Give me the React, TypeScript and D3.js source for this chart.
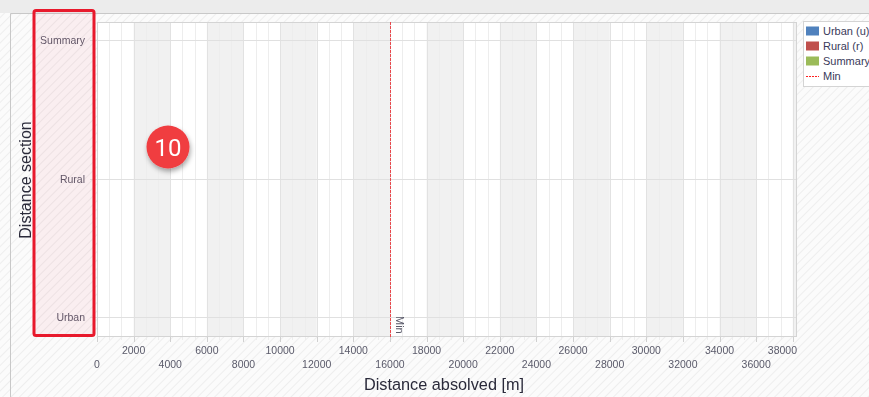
import { useEffect, useRef } from "react";
import * as d3 from "d3";

// empty chart: only the axis frame, the Min constant line and the legend
const categories = ["Urban", "Rural", "Summary"];
const seriesNames = ["Urban (u)", "Rural (r)", "Summary"];
const seriesColors = ["#4f81bd", "#c0504d", "#9bbb59"];
const xTickValues = [
  0, 2000, 4000, 6000, 8000, 10000, 12000, 14000, 16000, 18000, 20000, 22000,
  24000, 26000, 28000, 30000, 32000, 34000, 36000, 38000,
];
const xMax = 38230;
const minValue = 16000;
const minLabel = "Min";
const badgeText = "10";

const W = 869;
const H = 397;
const font = "Liberation Sans, Arial, sans-serif";

const App = () => {
  const svgRef = useRef<SVGSVGElement | null>(null);

  useEffect(() => {
    if (!svgRef.current) return;
    const svg = d3.select(svgRef.current);
    svg.selectAll("*").remove();

    const plot = { left: 97, right: 797, top: 22, bottom: 337 };

    const x = d3.scaleLinear().domain([0, xMax]).range([plot.left, plot.right]);
    const y = d3.scalePoint().domain(categories).range([317, 40]);

    const defs = svg.append("defs");
    const hatch = defs
      .append("pattern")
      .attr("id", "hatch")
      .attr("width", 6)
      .attr("height", 6)
      .attr("patternUnits", "userSpaceOnUse")
      .attr("patternTransform", "rotate(45)");
    hatch.append("rect").attr("width", 6).attr("height", 6).attr("fill", "#fbfbfb");
    hatch
      .append("line")
      .attr("x1", 0)
      .attr("y1", 0)
      .attr("x2", 0)
      .attr("y2", 6)
      .attr("stroke", "#eeeeee")
      .attr("stroke-width", 2);

    const shadow = defs.append("filter").attr("id", "shadow").attr("x", "-50%").attr("y", "-50%").attr("width", "200%").attr("height", "200%");
    shadow
      .append("feDropShadow")
      .attr("dx", 1)
      .attr("dy", 3)
      .attr("stdDeviation", 2.5)
      .attr("flood-color", "#000")
      .attr("flood-opacity", 0.35);

    // background
    svg.append("rect").attr("width", W).attr("height", H).attr("fill", "url(#hatch)");
    svg.append("rect").attr("width", W).attr("height", 13).attr("fill", "#ececec");
    svg
      .append("path")
      .attr("d", `M10.5,${H}V13.5H${W}`)
      .attr("fill", "none")
      .attr("stroke", "#c8c8c8");

    // plot area
    svg
      .append("rect")
      .attr("x", plot.left)
      .attr("y", plot.top)
      .attr("width", plot.right - plot.left)
      .attr("height", plot.bottom - plot.top)
      .attr("fill", "#fff");

    const bandStep = 2000;
    const bands = d3.range(bandStep, xMax, bandStep * 2);
    svg
      .append("g")
      .selectAll("rect")
      .data(bands)
      .join("rect")
      .attr("x", (d) => x(d))
      .attr("y", plot.top)
      .attr("width", (d) => x(Math.min(d + bandStep, xMax)) - x(d))
      .attr("height", plot.bottom - plot.top)
      .attr("fill", "#f1f1f1");

    const minorTicks = d3.range(0, xMax, bandStep / 3);
    svg
      .append("g")
      .selectAll("line")
      .data(minorTicks)
      .join("line")
      .attr("x1", (d) => Math.round(x(d)) + 0.5)
      .attr("x2", (d) => Math.round(x(d)) + 0.5)
      .attr("y1", plot.top)
      .attr("y2", plot.bottom + 3)
      .attr("stroke", (_d, i) => (i % 3 === 0 ? "#e2e2e2" : "#ededed"));

    svg
      .append("g")
      .selectAll("line")
      .data(xTickValues)
      .join("line")
      .attr("x1", (d) => Math.round(x(d)) + 0.5)
      .attr("x2", (d) => Math.round(x(d)) + 0.5)
      .attr("y1", plot.bottom)
      .attr("y2", plot.bottom + 5)
      .attr("stroke", "#d0d0d0");

    svg
      .append("g")
      .selectAll("line")
      .data(categories)
      .join("line")
      .attr("x1", plot.left - 7)
      .attr("x2", plot.right)
      .attr("y1", (d) => Math.round(y(d) as number) + 0.5)
      .attr("y2", (d) => Math.round(y(d) as number) + 0.5)
      .attr("stroke", "#e0e0e0");

    svg
      .append("rect")
      .attr("x", plot.left + 0.5)
      .attr("y", plot.top + 0.5)
      .attr("width", plot.right - plot.left - 1)
      .attr("height", plot.bottom - plot.top - 1)
      .attr("fill", "none")
      .attr("stroke", "#d4d4d4");

    // tick labels
    svg
      .append("g")
      .selectAll("text")
      .data(categories)
      .join("text")
      .attr("x", 85)
      .attr("y", (d) => (y(d) as number) + 4)
      .attr("text-anchor", "end")
      .attr("font-family", font)
      .attr("font-size", 10.5)
      .attr("fill", "#5a5a6a")
      .text((d) => d);

    svg
      .append("g")
      .selectAll("text")
      .data(xTickValues)
      .join("text")
      .attr("x", (d, i) => (i === xTickValues.length - 1 ? plot.right : x(d)))
      .attr("y", (d) => (d % 4000 === 0 ? 368 : 354))
      .attr("text-anchor", (_d, i) => (i === xTickValues.length - 1 ? "end" : "middle"))
      .attr("font-family", font)
      .attr("font-size", 10.5)
      .attr("fill", "#5a5a6a")
      .text((d) => d);

    // axis titles
    svg
      .append("text")
      .attr("transform", "translate(31,180) rotate(-90)")
      .attr("text-anchor", "middle")
      .attr("font-family", font)
      .attr("font-size", 16)
      .attr("fill", "#2a2a3a")
      .text("Distance section");
    svg
      .append("text")
      .attr("x", 444)
      .attr("y", 390)
      .attr("text-anchor", "middle")
      .attr("font-family", font)
      .attr("font-size", 16.3)
      .attr("fill", "#2a2a3a")
      .text("Distance absolved [m]");

    // Min constant line
    const mx = Math.round(x(minValue)) + 0.5;
    svg
      .append("line")
      .attr("x1", mx)
      .attr("x2", mx)
      .attr("y1", plot.top)
      .attr("y2", plot.bottom)
      .attr("stroke", "#e8484c")
      .attr("stroke-dasharray", "3,1");
    svg
      .append("text")
      .attr("transform", `translate(${mx + 5},316) rotate(90)`)
      .attr("font-family", font)
      .attr("font-size", 11)
      .attr("fill", "#5a5a6a")
      .text(minLabel);

    // legend
    const legend = svg.append("g").attr("transform", "translate(803,21)");
    legend
      .append("rect")
      .attr("x", 0.5)
      .attr("y", 0.5)
      .attr("width", 80)
      .attr("height", 65)
      .attr("fill", "#fff")
      .attr("stroke", "#d4d4d4");
    const items = [...seriesNames, minLabel];
    items.forEach((name, i) => {
      const cy = 10 + i * 15;
      if (i < seriesNames.length) {
        legend
          .append("rect")
          .attr("x", 3)
          .attr("y", cy - 4.5)
          .attr("width", 13)
          .attr("height", 9)
          .attr("fill", seriesColors[i]);
      } else {
        legend
          .append("line")
          .attr("x1", 3)
          .attr("x2", 16)
          .attr("y1", cy + 0.5)
          .attr("y2", cy + 0.5)
          .attr("stroke", "#ff2020")
          .attr("stroke-dasharray", "2,1");
      }
      legend
        .append("text")
        .attr("x", 20)
        .attr("y", cy + 4)
        .attr("font-family", font)
        .attr("font-size", 11)
        .attr("fill", "#3a3a5a")
        .text(name);
    });

    // annotation overlay
    svg
      .append("rect")
      .attr("x", 34)
      .attr("y", 10.5)
      .attr("width", 60)
      .attr("height", 325)
      .attr("rx", 2)
      .attr("fill", "rgba(240,40,60,0.06)")
      .attr("stroke", "#e8192c")
      .attr("stroke-width", 3);

    const badge = svg.append("g").attr("transform", "translate(168,147)");
    badge
      .append("circle")
      .attr("r", 21.5)
      .attr("fill", "#f03c40")
      .attr("filter", "url(#shadow)");
    badge
      .append("text")
      .attr("y", 8.5)
      .attr("text-anchor", "middle")
      .attr("font-family", "Roboto, Arial, sans-serif")
      .attr("font-size", 24)
      .attr("fill", "#fff")
      .text(badgeText);
  }, []);

  return (
    <svg
      ref={svgRef}
      width={W}
      height={H}
      style={{ position: "fixed", left: 0, top: 0 }}
    />
  );
};

export default App;
